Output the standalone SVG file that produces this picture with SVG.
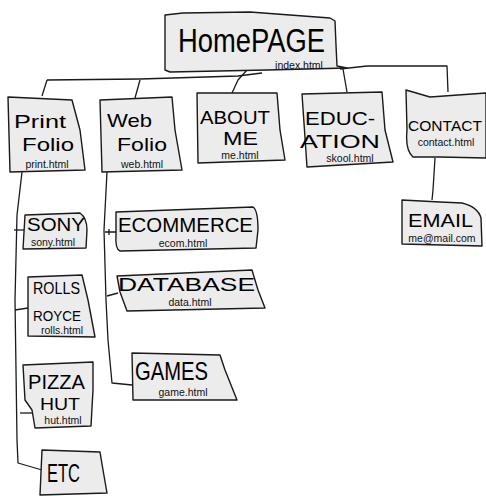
<svg xmlns="http://www.w3.org/2000/svg" width="486" height="496" viewBox="0 0 486 496">
<style>
.box{fill:#ececec;stroke:#1a1a1a;stroke-width:1.4;stroke-linejoin:round}
.ln{fill:none;stroke:#1a1a1a;stroke-width:1.3;stroke-linejoin:round}
.big{font-family:"Liberation Sans",Arial,sans-serif;fill:#000}
.sm{font-family:"Liberation Sans",Arial,sans-serif;font-size:10.5px;fill:#111;text-anchor:middle}
</style>
<rect width="486" height="496" fill="#fff"/>
<g id="connectors" class="ln">
<path d="M47,80 L140,79 L238,76 L262,73 M340,69 L367,66 L447,66 L448,92"/>
<path d="M47,80 L42,96"/>
<path d="M140,80 L135,98"/>
<path d="M247,70 L238,80 L232,93"/>
<path d="M343,69 L347,92"/>
<path d="M22,172 L17,215 L15,300 L17,440 L18,463 L42,470"/>
<path d="M14,230 L25,230"/>
<path d="M15,310 L28,308"/>
<path d="M20,413 L35,413"/>
<path d="M107,172 L104,230 L106,300 L108,340 L112,383 L132,385"/>
<path d="M105,232 L116,232 M109,229 L109,235"/>
<path d="M107,296 L118,293"/>
<path d="M435,158 L433,190 L432,200"/>
</g>
<g id="homepage">
<path class="box" d="M165,15 L183,13 L250,12 L330,18 L335,21 L336,45 L337,66 L347,68 L267,70 L170,72 L165,70 Z"/>
<text class="big" x="178" y="52" font-size="34" textLength="147" lengthAdjust="spacingAndGlyphs">HomePAGE</text>
<text class="sm" x="299" y="69">index.html</text>
</g>
<g id="printfolio">
<path class="box" d="M8,97 L72,100 L80,130 L85,170 L10,172 Z"/>
<text class="big" x="14" y="128" font-size="19" textLength="52" lengthAdjust="spacingAndGlyphs">Print</text>
<text class="big" x="22" y="151" font-size="19" textLength="52" lengthAdjust="spacingAndGlyphs">Folio</text>
<text class="sm" x="47" y="168">print.html</text>
</g>
<g id="webfolio">
<path class="box" d="M100,100 L172,97 L175,130 L182,170 L102,172 Z"/>
<text class="big" x="107" y="127" font-size="19" textLength="45" lengthAdjust="spacingAndGlyphs">Web</text>
<text class="big" x="117" y="151" font-size="19" textLength="50" lengthAdjust="spacingAndGlyphs">Folio</text>
<text class="sm" x="142" y="168">web.html</text>
</g>
<g id="aboutme">
<path class="box" d="M197,93 L277,93 L280,130 L285,160 L198,163 Z"/>
<text class="big" x="200" y="124" font-size="18" textLength="70" lengthAdjust="spacingAndGlyphs">ABOUT</text>
<text class="big" x="223" y="145" font-size="18" textLength="35" lengthAdjust="spacingAndGlyphs">ME</text>
<text class="sm" x="240" y="159">me.html</text>
</g>
<g id="education">
<path class="box" d="M302,94 L382,92 L385,130 L393,162 L307,167 Z"/>
<text class="big" x="305" y="125" font-size="18" textLength="70" lengthAdjust="spacingAndGlyphs">EDUC-</text>
<text class="big" x="300" y="148" font-size="19" textLength="80" lengthAdjust="spacingAndGlyphs">ATION</text>
<text class="sm" x="350" y="162">skool.html</text>
</g>
<g id="contact">
<path class="box" d="M406,90 L430,97 L486,93 L486,158 L440,157 L413,157 Q405,150 407,130 Z"/>
<text class="big" x="408" y="131" font-size="15" textLength="74" lengthAdjust="spacingAndGlyphs">CONTACT</text>
<text class="sm" x="446" y="146">contact.html</text>
</g>
<g id="email">
<path class="box" d="M402,200 L440,202 L462,203 Q478,207 481,218 L482,246 L402,244 Z"/>
<text class="big" x="408" y="227" font-size="19" textLength="65" lengthAdjust="spacingAndGlyphs">EMAIL</text>
<text class="sm" x="442" y="242">me@mail.com</text>
</g>
<g id="sony">
<path class="box" d="M25,215 L80,213 Q87,218 87,230 L86,248 L23,249 Z"/>
<text class="big" x="27" y="231" font-size="18" textLength="58" lengthAdjust="spacingAndGlyphs">SONY</text>
<text class="sm" x="53" y="246">sony.html</text>
</g>
<g id="rollsroyce">
<path class="box" d="M28,277 L82,275 L88,300 L95,337 L28,336 Z"/>
<text class="big" x="33" y="294" font-size="17" textLength="47" lengthAdjust="spacingAndGlyphs">ROLLS</text>
<text class="big" x="33" y="321" font-size="15" textLength="48" lengthAdjust="spacingAndGlyphs">ROYCE</text>
<text class="sm" x="62" y="334">rolls.html</text>
</g>
<g id="pizzahut">
<path class="box" d="M23,365 L93,362 L93,390 L91,426 L35,428 L32,410 L25,400 Z"/>
<text class="big" x="28" y="389" font-size="20" textLength="57" lengthAdjust="spacingAndGlyphs">PIZZA</text>
<text class="big" x="40" y="410" font-size="17" textLength="40" lengthAdjust="spacingAndGlyphs">HUT</text>
<text class="sm" x="63" y="424">hut.html</text>
</g>
<g id="etc">
<path class="box" d="M42,450 L100,452 L103,470 L107,493 L40,495 Z"/>
<text class="big" x="47" y="482" font-size="26" textLength="33" lengthAdjust="spacingAndGlyphs">ETC</text>
</g>
<g id="ecommerce">
<path class="box" d="M116,212 L253,207 Q258,210 258,230 L256,248 L120,251 Q115,249 116,235 Z"/>
<text class="big" x="118" y="232" font-size="20" textLength="135" lengthAdjust="spacingAndGlyphs">ECOMMERCE</text>
<text class="sm" x="183" y="247">ecom.html</text>
</g>
<g id="database">
<path class="box" d="M117,276 L252,270 L258,290 L265,308 L127,311 L120,292 Z"/>
<text class="big" x="118" y="291" font-size="19" textLength="137" lengthAdjust="spacingAndGlyphs">DATABASE</text>
<text class="sm" x="190" y="306">data.html</text>
</g>
<g id="games">
<path class="box" d="M132,353 L220,355 L225,370 L237,400 L133,400 Z"/>
<text class="big" x="135" y="380" font-size="26" textLength="73" lengthAdjust="spacingAndGlyphs">GAMES</text>
<text class="sm" x="183" y="396">game.html</text>
</g>
</svg>
